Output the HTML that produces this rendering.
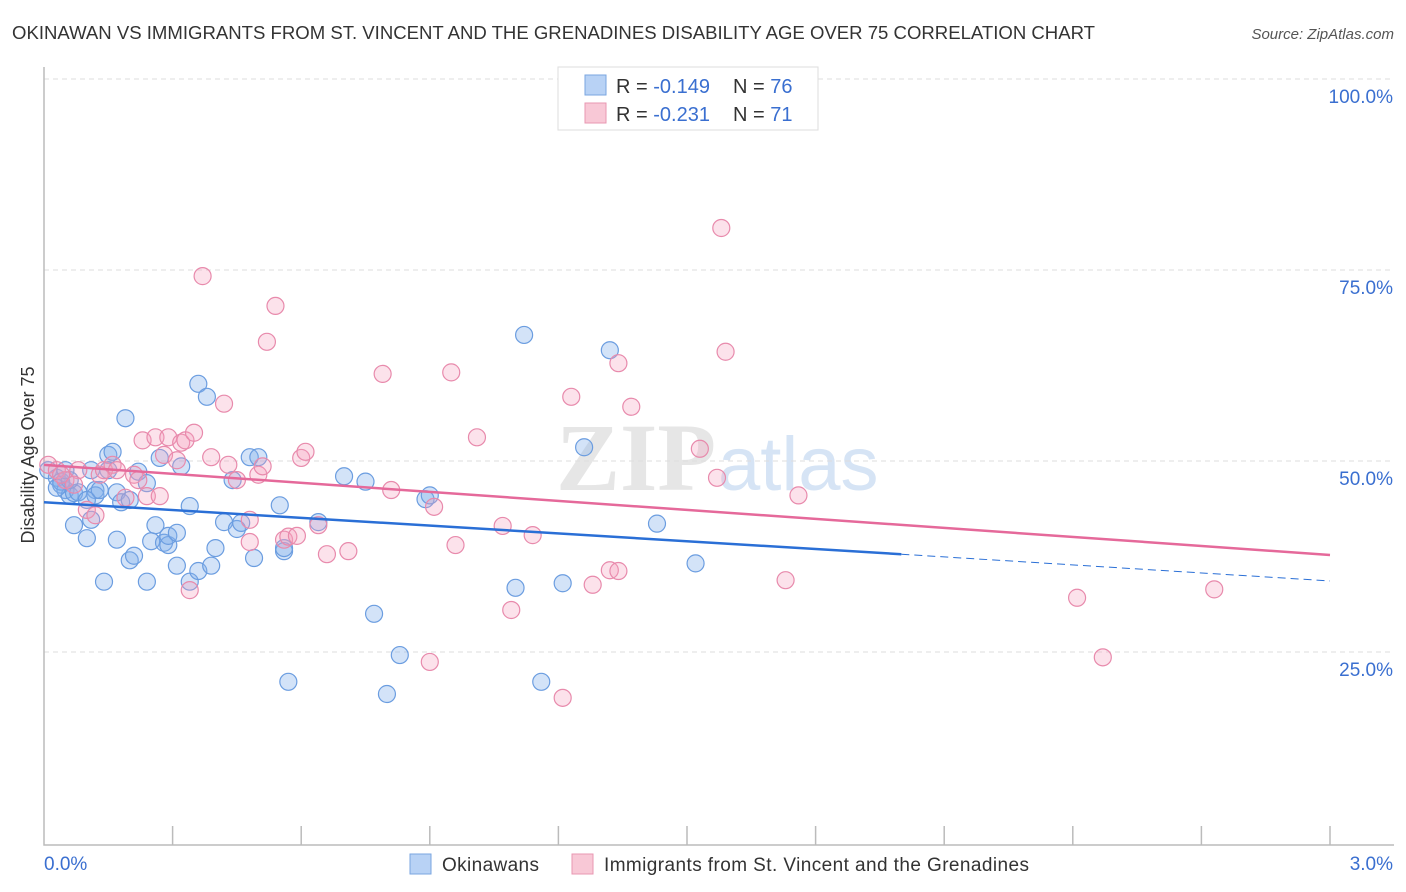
<!DOCTYPE html>
<html><head><meta charset="utf-8"><style>
body{margin:0;background:#fff;font-family:"Liberation Sans",sans-serif}
svg{display:block}
</style></head><body>
<svg id="chart" width="1406" height="892">
<text x="12" y="39" font-size="18" fill="#333" textLength="1083" lengthAdjust="spacingAndGlyphs">OKINAWAN VS IMMIGRANTS FROM ST. VINCENT AND THE GRENADINES DISABILITY AGE OVER 75 CORRELATION CHART</text>
<text x="1394" y="39" font-size="15" fill="#555" font-style="italic" text-anchor="end">Source: ZipAtlas.com</text>
<text x="716" y="490" font-size="96" fill="#e6e6e6" text-anchor="end" font-family="Liberation Serif,serif" font-weight="bold">ZIP</text>
<text x="718" y="490" font-size="76" fill="#d6e4f5">atlas</text>
<g id="grid"></g>
<g id="axes"></g>
<g id="pts"></g>
<g id="trend"></g>
<text transform="translate(34,455) rotate(-90)" font-size="18" fill="#333" text-anchor="middle">Disability Age Over 75</text>
<g>
<rect x="558" y="67" width="260" height="63" fill="#fff" stroke="#ddd"/>
<rect x="585" y="75" width="21" height="20" fill="#b8d2f5" stroke="#7aa6e0"/>
<rect x="585" y="103" width="21" height="20" fill="#f8c8d6" stroke="#e897b2"/>
<text x="616" y="93" font-size="20" fill="#333">R = <tspan fill="#3a6fd0">-0.149</tspan><tspan x="733">N = </tspan><tspan fill="#3a6fd0">76</tspan></text>
<text x="616" y="121" font-size="20" fill="#333">R = <tspan fill="#3a6fd0">-0.231</tspan><tspan x="733">N = </tspan><tspan fill="#3a6fd0">71</tspan></text>
</g>
<g>
<rect x="410" y="854" width="21" height="20" fill="#b8d2f5" stroke="#7aa6e0"/>
<text x="442" y="871" font-size="19" fill="#333" textLength="97">Okinawans</text>
<rect x="572" y="854" width="21" height="20" fill="#f8c8d6" stroke="#e897b2"/>
<text x="604" y="871" font-size="19" fill="#333" textLength="425">Immigrants from St. Vincent and the Grenadines</text>
</g>
</svg>
<script>
const blueX=[.01,.03,.04,.05,.06,.07,.08,.04,.03,.06,.07,.10,.11,.12,.14,.15,.16,.17,.18,.19,.17,.20,.21,.22,.24,.24,.25,.26,.27,.28,.29,.29,.31,.31,.32,.34,.34,.36,.36,.38,.39,.40,.42,.45,.46,.48,.49,.50,.44,.55,.56,.56,.57,.64,.70,.75,.77,.80,.83,.89,.90,1.10,1.12,1.16,1.21,1.26,1.32,1.43,1.52,.15,.11,.12,.05,.20,.10,.13];
const blueY=[48.8,47.8,46.9,46.2,45.5,45.8,45.9,47.3,46.5,47.5,41.6,39.9,48.8,46.2,34.2,50.8,51.2,45.9,44.6,55.6,39.7,37.0,37.6,48.6,34.2,47.1,39.5,41.6,50.4,39.3,39.0,40.2,36.3,40.6,49.3,34.2,44.1,35.6,60.1,58.4,36.3,38.6,42.0,41.1,41.9,50.5,37.3,50.5,47.5,44.2,38.2,38.6,21.1,42.0,48.0,47.3,30.0,19.5,24.6,45.0,45.5,33.4,66.5,21.1,34.0,51.8,64.5,41.8,36.6,48.8,42.3,45.5,48.8,44.9,44.9,46.2];
const pinkX=[.01,.03,.05,.08,.10,.12,.13,.14,.16,.17,.19,.21,.23,.24,.26,.27,.28,.29,.31,.32,.33,.34,.35,.37,.39,.42,.43,.45,.48,.50,.51,.52,.54,.56,.57,.59,.60,.61,.64,.66,.71,.79,.81,.90,.91,.95,.96,1.01,1.07,1.09,1.14,1.21,1.23,1.28,1.32,1.34,1.34,1.37,1.53,1.57,1.58,1.59,1.73,1.76,2.41,2.47,2.73,.04,.07,.22,.48];
const pinkY=[49.5,48.8,47.5,48.8,43.6,42.9,48.2,48.8,49.5,48.8,45.2,48.2,52.7,45.4,53.1,45.4,50.8,53.1,50.1,52.4,52.7,33.1,53.7,74.2,50.5,57.5,49.5,47.5,39.4,48.2,49.3,65.6,70.3,39.7,40.1,40.2,50.4,51.2,41.6,37.8,38.2,61.4,46.2,23.7,44.0,61.6,39.0,53.1,41.5,30.5,40.3,19.0,58.4,33.8,35.7,62.8,35.6,57.1,51.6,47.8,80.5,64.3,34.4,45.5,32.1,24.3,33.2,48.2,46.9,47.5,42.3];
const blueTrend=[44.6,37.8,34.3];
const trendXs=[0,2.0,3.0];
const pinkTrend=[49.5,37.7];
const yTicks=[25,50,75,100];
const yTickLabels=["25.0%","50.0%","75.0%","100.0%"];
const xLabels=["0.0%","3.0%"];
const NS="http://www.w3.org/2000/svg";
const X=v=>44+v/3*1286, Y=v=>843-v*7.64;
function mk(t,a,p){const e=document.createElementNS(NS,t);for(const k in a)e.setAttribute(k,a[k]);p.appendChild(e);return e;}
const grid=document.getElementById('grid'),axes=document.getElementById('axes'),pts=document.getElementById('pts'),tr=document.getElementById('trend');
yTicks.forEach((v,i)=>{
 const l=mk('line',{x1:44,x2:1394,y1:Y(v),y2:Y(v),stroke:'#ddd','stroke-dasharray':'5,4'},grid);
 
 
 const t=mk('text',{x:1393,y:Y(v)+24,'font-size':19,fill:'#3a6fd0','text-anchor':'end'},axes);
 t.textContent=yTickLabels[i];
 
 
});
const ax=mk('path',{d:'M44,67 V845 H1394',fill:'none',stroke:'#bbb','stroke-width':1.5},axes);


for(let i=1;i<=10;i++){const tk=mk('line',{x1:X(i*0.3),x2:X(i*0.3),y1:826,y2:845,stroke:'#bbb','stroke-width':1.5},axes);
 
 }
[[X(0),'start'],[1393,'end']].forEach((p,i)=>{const t=mk('text',{x:p[0],y:870,'font-size':19,fill:'#3a6fd0','text-anchor':p[1]},axes);t.textContent=xLabels[i];
 
 });
function dots(xs,ys,fill,stroke,name){xs.forEach((x,i)=>{const c=mk('circle',{cx:X(x),cy:Y(ys[i]),r:8.5,fill:fill,stroke:stroke,'stroke-width':1.2},pts);
 
 });}
dots(blueX,blueY,'rgba(130,175,235,0.35)','#6b9de0','okinawan-point');
dots(pinkX,pinkY,'rgba(245,160,190,0.3)','#e88aac','immigrant-point');
const b1=mk('line',{x1:X(trendXs[0]),y1:Y(blueTrend[0]),x2:X(trendXs[1]),y2:Y(blueTrend[1]),stroke:'#2a6fd6','stroke-width':2.5},tr);


const b2=mk('line',{x1:X(trendXs[1]),y1:Y(blueTrend[1]),x2:X(trendXs[2]),y2:Y(blueTrend[2]),stroke:'#2a6fd6','stroke-width':1,'stroke-dasharray':'8,5'},tr);


const p1=mk('line',{x1:X(0),y1:Y(pinkTrend[0]),x2:X(3),y2:Y(pinkTrend[1]),stroke:'#e5699a','stroke-width':2.5},tr);


</script>
</body></html>
